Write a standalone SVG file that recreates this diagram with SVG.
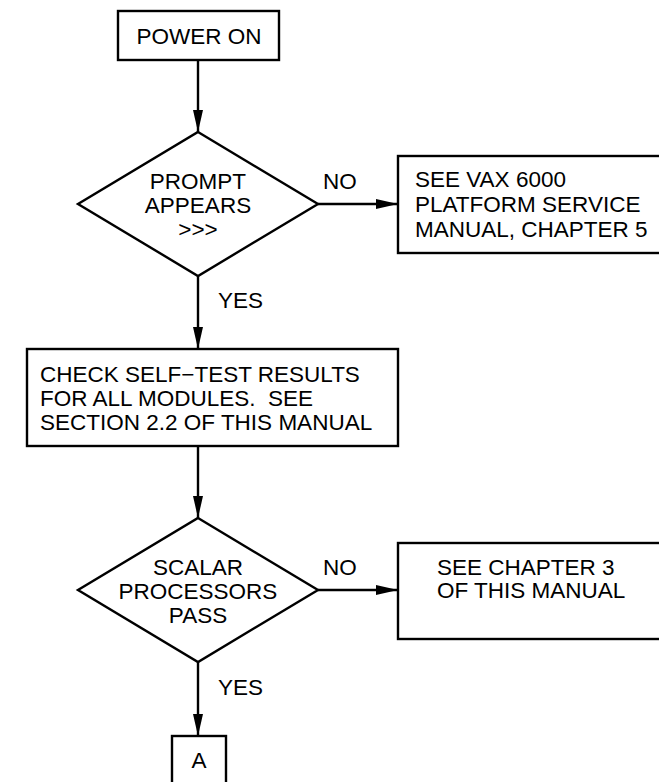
<svg xmlns="http://www.w3.org/2000/svg" width="659" height="782" viewBox="0 0 659 782">
  <style>
    .box { fill: #ffffff; stroke: #000000; stroke-width: 2.4; }
    .line { fill: none; stroke: #000000; stroke-width: 2.4; }
    .t { font-family: "Liberation Sans", Arial, Helvetica, sans-serif; font-size: 22.5px; fill: #000000; white-space: pre; }
    .c { text-anchor: middle; }
  </style>
  <defs>
    <marker id="arrow" viewBox="0 0 22 10" refX="22" refY="5" markerWidth="22" markerHeight="10" markerUnits="userSpaceOnUse" orient="auto">
      <path d="M0,0 L22,5 L0,10 Z" fill="#000000"/>
    </marker>
  </defs>
  <rect width="659" height="782" fill="#ffffff"/>

  <g id="connectors">
    <line class="line" x1="198" y1="60" x2="198" y2="132" marker-end="url(#arrow)"/>
    <line class="line" x1="318" y1="204" x2="398" y2="204" marker-end="url(#arrow)"/>
    <line class="line" x1="198" y1="276" x2="198" y2="349" marker-end="url(#arrow)"/>
    <line class="line" x1="198" y1="446" x2="198" y2="518" marker-end="url(#arrow)"/>
    <line class="line" x1="318" y1="590" x2="398" y2="590" marker-end="url(#arrow)"/>
    <line class="line" x1="198" y1="662" x2="198" y2="736" marker-end="url(#arrow)"/>
    <text class="t" x="323" y="189">NO</text>
    <text class="t" x="218" y="308">YES</text>
    <text class="t" x="323" y="575">NO</text>
    <text class="t" x="218" y="695">YES</text>
  </g>

  <g id="power-on">
    <rect class="box" x="118" y="11" width="161" height="49"/>
    <text class="t c" x="199" y="44">POWER ON</text>
  </g>

  <g id="prompt-appears">
    <polygon class="box" points="198,132 318,204 198,276 78,204"/>
    <text class="t c" x="198" y="189">PROMPT</text>
    <text class="t c" x="198" y="213">APPEARS</text>
    <text class="t c" x="198" y="237">&gt;&gt;&gt;</text>
  </g>

  <g id="platform-manual">
    <rect class="box" x="398" y="156" width="280" height="97"/>
    <text class="t" x="415" y="187">SEE VAX 6000</text>
    <text class="t" x="415" y="212">PLATFORM SERVICE</text>
    <text class="t" x="415" y="237">MANUAL, CHAPTER 5</text>
  </g>

  <g id="self-test">
    <rect class="box" x="27" y="349" width="371" height="97"/>
    <text class="t" x="40" y="382">CHECK SELF−TEST RESULTS</text>
    <text class="t" x="40" y="406">FOR ALL MODULES.  SEE</text>
    <text class="t" x="40" y="430">SECTION 2.2 OF THIS MANUAL</text>
  </g>

  <g id="scalar-pass">
    <polygon class="box" points="198,518 318,590 198,662 78,590"/>
    <text class="t c" x="198" y="575">SCALAR</text>
    <text class="t c" x="198" y="599">PROCESSORS</text>
    <text class="t c" x="198" y="623">PASS</text>
  </g>

  <g id="chapter-3">
    <rect class="box" x="398" y="543" width="280" height="96"/>
    <text class="t" x="437" y="575">SEE CHAPTER 3</text>
    <text class="t" x="437" y="598">OF THIS MANUAL</text>
  </g>

  <g id="connector-a">
    <rect class="box" x="172" y="736" width="54" height="60"/>
    <text class="t c" x="199" y="768">A</text>
  </g>
</svg>
